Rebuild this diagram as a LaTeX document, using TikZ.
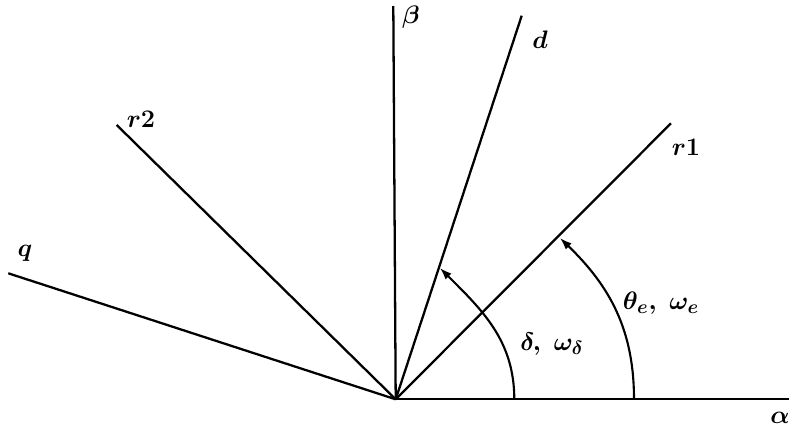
\documentclass[tikz,border=0pt]{standalone}
\usetikzlibrary{arrows.meta}
\begin{document}
\begin{tikzpicture}[x=0.02cm, y=-0.02cm,
  every node/.style={font=\fontsize{15}{17}\selectfont\boldmath, inner sep=0pt},
  ray/.style={line width=1.3pt},
  sweep/.style={line width=1.2pt, -{Latex[length=2.4mm, width=1.7mm]}}]
  \useasboundingbox (0,0) rectangle (789,430);
  \coordinate (o) at (395.7,399.3);
  \coordinate (alpha) at (789,399.3);
  \coordinate (beta) at (393.3,6);
  \coordinate (d) at (521.7,15.7);
  \coordinate (r1) at (671,123.3);
  \coordinate (r2) at (116.7,125);
  \coordinate (q) at (8.3,273.3);
  \coordinate (delta0) at (514.3,399.3);
  \coordinate (delta1) at (440,268);
  \coordinate (theta0) at (634,399.3);
  \coordinate (theta1) at (560,238);
  \foreach \e in {alpha,beta,d,r1,r2,q} \draw[ray] (o) -- (\e);
  \draw[sweep] (delta0) to[out=90, in=-45] (delta1);
  \draw[sweep] (theta0) to[out=90, in=-44] (theta1);
  \node (lalpha) at (780,418) {$\alpha$};
  \node (lbeta) at (411,17) {$\beta$};
  \node (ld) at (540,40) {$d$};
  \node (lr1) at (686,147) {$r1$};
  \node (lr2) at (141,119) {$r2$};
  \node (lq) at (25,253) {$q$};
  \node (ldelta) at (552,344) {$\delta,\ \omega_\delta$};
  \node (ltheta) at (661,303) {$\theta_e,\ \omega_e$};
\end{tikzpicture}
\end{document}
